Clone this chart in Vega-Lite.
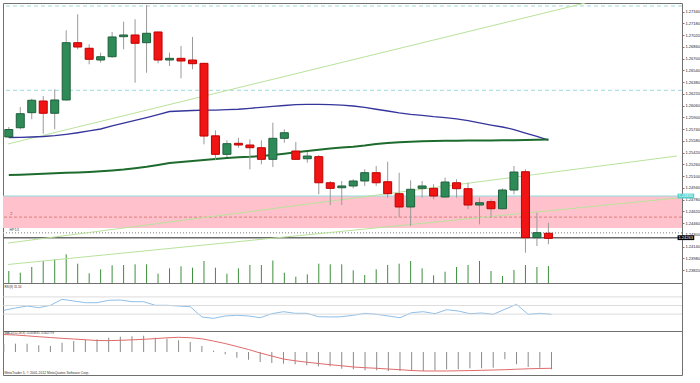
{
"$schema":"https://vega.github.io/schema/vega-lite/v6.json",
"padding":{"left":1,"top":2,"right":0,"bottom":0},
"background":"white",
"spacing":0,
"bounds":"flush",
"config":{"view":{"stroke":"#707070","strokeWidth":1},"font":"Liberation Sans"},
"datasets":{
"bars":[
{"i":0,"o":1.25634,"h":1.25770,"l":1.25620,"c":1.25736,"v":12000,"m1":1.25627,"m2":1.25116,"r":38.8,"hist":0.00154,"sig":0.00336},
{"i":1,"o":1.25760,"h":1.26042,"l":1.25739,"c":1.25951,"v":10300,"m1":1.25630,"m2":1.25120,"r":44.2,"hist":0.00160,"sig":0.00327},
{"i":2,"o":1.25965,"h":1.26155,"l":1.25875,"c":1.26134,"v":16000,"m1":1.25634,"m2":1.25126,"r":48.8,"hist":0.00160,"sig":0.00311},
{"i":3,"o":1.26124,"h":1.26192,"l":1.25679,"c":1.25957,"v":22000,"m1":1.25641,"m2":1.25133,"r":44.9,"hist":0.00129,"sig":0.00294},
{"i":4,"o":1.25957,"h":1.26283,"l":1.25739,"c":1.26138,"v":23700,"m1":1.25652,"m2":1.25140,"r":50.5,"hist":0.00115,"sig":0.00279},
{"i":5,"o":1.26138,"h":1.27087,"l":1.26131,"c":1.26918,"v":28700,"m1":1.25671,"m2":1.25146,"r":64.4,"hist":0.00179,"sig":0.00263},
{"i":6,"o":1.26918,"h":1.27305,"l":1.26828,"c":1.26859,"v":19300,"m1":1.25692,"m2":1.25150,"r":60.5,"hist":0.00211,"sig":0.00250},
{"i":7,"o":1.26842,"h":1.26896,"l":1.26624,"c":1.26692,"v":9700,"m1":1.25716,"m2":1.25157,"r":56.5,"hist":0.00236,"sig":0.00236},
{"i":8,"o":1.26682,"h":1.26782,"l":1.26646,"c":1.26727,"v":13700,"m1":1.25743,"m2":1.25167,"r":56.5,"hist":0.00244,"sig":0.00221},
{"i":9,"o":1.26727,"h":1.27064,"l":1.26714,"c":1.26996,"v":17700,"m1":1.25784,"m2":1.25178,"r":62.1,"hist":0.00275,"sig":0.00219},
{"i":10,"o":1.27000,"h":1.27204,"l":1.26828,"c":1.27023,"v":18000,"m1":1.25824,"m2":1.25191,"r":62.8,"hist":0.00294,"sig":0.00225},
{"i":11,"o":1.27023,"h":1.27237,"l":1.26373,"c":1.26910,"v":18700,"m1":1.25861,"m2":1.25209,"r":58.8,"hist":0.00302,"sig":0.00234},
{"i":12,"o":1.26918,"h":1.27431,"l":1.26509,"c":1.27046,"v":18700,"m1":1.25899,"m2":1.25229,"r":58.8,"hist":0.00313,"sig":0.00244},
{"i":13,"o":1.27064,"h":1.27070,"l":1.26637,"c":1.26682,"v":9300,"m1":1.25940,"m2":1.25253,"r":50.5,"hist":0.00275,"sig":0.00258},
{"i":14,"o":1.26682,"h":1.26782,"l":1.26601,"c":1.26705,"v":14700,"m1":1.25981,"m2":1.25280,"r":50.5,"hist":0.00256,"sig":0.00273},
{"i":15,"o":1.26705,"h":1.26873,"l":1.26433,"c":1.26669,"v":16700,"m1":1.25988,"m2":1.25293,"r":48.8,"hist":0.00225,"sig":0.00283},
{"i":16,"o":1.26682,"h":1.26996,"l":1.26556,"c":1.26632,"v":15300,"m1":1.25995,"m2":1.25307,"r":47.2,"hist":0.00192,"sig":0.00275},
{"i":17,"o":1.26637,"h":1.26646,"l":1.25534,"c":1.25647,"v":22000,"m1":1.25999,"m2":1.25321,"r":23.3,"hist":0.00115,"sig":0.00254},
{"i":18,"o":1.25650,"h":1.25725,"l":1.25317,"c":1.25398,"v":15300,"m1":1.26001,"m2":1.25334,"r":20.2,"hist":0.00025,"sig":0.00211},
{"i":19,"o":1.25398,"h":1.25589,"l":1.25361,"c":1.25543,"v":9300,"m1":1.26006,"m2":1.25348,"r":25.6,"hist":-0.00044,"sig":0.00163},
{"i":20,"o":1.25548,"h":1.25624,"l":1.25488,"c":1.25525,"v":14700,"m1":1.26012,"m2":1.25357,"r":27.2,"hist":-0.00110,"sig":0.00106},
{"i":21,"o":1.25525,"h":1.25602,"l":1.25194,"c":1.25488,"v":18000,"m1":1.26025,"m2":1.25364,"r":25.6,"hist":-0.00148,"sig":0.00048},
{"i":22,"o":1.25488,"h":1.25589,"l":1.25262,"c":1.25330,"v":18000,"m1":1.26038,"m2":1.25375,"r":21.6,"hist":-0.00192,"sig":-0.00019},
{"i":23,"o":1.25330,"h":1.25829,"l":1.25225,"c":1.25616,"v":22500,"m1":1.26052,"m2":1.25389,"r":30.9,"hist":-0.00211,"sig":-0.00077},
{"i":24,"o":1.25616,"h":1.25739,"l":1.25556,"c":1.25692,"v":10300,"m1":1.26063,"m2":1.25406,"r":35.6,"hist":-0.00225,"sig":-0.00135},
{"i":25,"o":1.25443,"h":1.25566,"l":1.25321,"c":1.25330,"v":6300,"m1":1.26074,"m2":1.25425,"r":31.9,"hist":-0.00236,"sig":-0.00169},
{"i":26,"o":1.25338,"h":1.25430,"l":1.25284,"c":1.25375,"v":8700,"m1":1.26079,"m2":1.25443,"r":31.9,"hist":-0.00256,"sig":-0.00196},
{"i":27,"o":1.25366,"h":1.25389,"l":1.24854,"c":1.25011,"v":19300,"m1":1.26079,"m2":1.25461,"r":24.0,"hist":-0.00275,"sig":-0.00221},
{"i":28,"o":1.25011,"h":1.25035,"l":1.24708,"c":1.24935,"v":18700,"m1":1.26075,"m2":1.25477,"r":23.3,"hist":-0.00275,"sig":-0.00244},
{"i":29,"o":1.24943,"h":1.25035,"l":1.24708,"c":1.24967,"v":18700,"m1":1.26067,"m2":1.25491,"r":24.0,"hist":-0.00321,"sig":-0.00265},
{"i":30,"o":1.24967,"h":1.25058,"l":1.24935,"c":1.25035,"v":12700,"m1":1.26056,"m2":1.25502,"r":27.2,"hist":-0.00333,"sig":-0.00288},
{"i":31,"o":1.25035,"h":1.25194,"l":1.24967,"c":1.25148,"v":8000,"m1":1.26036,"m2":1.25518,"r":31.9,"hist":-0.00352,"sig":-0.00302},
{"i":32,"o":1.25148,"h":1.25239,"l":1.24967,"c":1.25011,"v":13700,"m1":1.26012,"m2":1.25538,"r":29.5,"hist":-0.00352,"sig":-0.00313},
{"i":33,"o":1.25025,"h":1.25297,"l":1.24807,"c":1.24862,"v":18000,"m1":1.25988,"m2":1.25552,"r":25.6,"hist":-0.00365,"sig":-0.00327},
{"i":34,"o":1.24862,"h":1.25148,"l":1.24544,"c":1.24681,"v":19300,"m1":1.25963,"m2":1.25562,"r":21.6,"hist":-0.00365,"sig":-0.00340},
{"i":35,"o":1.24681,"h":1.25044,"l":1.24422,"c":1.24922,"v":22000,"m1":1.25943,"m2":1.25568,"r":33.3,"hist":-0.00365,"sig":-0.00356},
{"i":36,"o":1.24935,"h":1.25035,"l":1.24807,"c":1.24967,"v":14700,"m1":1.25927,"m2":1.25575,"r":35.6,"hist":-0.00365,"sig":-0.00365},
{"i":37,"o":1.24935,"h":1.24990,"l":1.24786,"c":1.24830,"v":7700,"m1":1.25910,"m2":1.25579,"r":30.9,"hist":-0.00352,"sig":-0.00365},
{"i":38,"o":1.24817,"h":1.25080,"l":1.24807,"c":1.25021,"v":11300,"m1":1.25897,"m2":1.25582,"r":40.2,"hist":-0.00333,"sig":-0.00365},
{"i":39,"o":1.25011,"h":1.25058,"l":1.24807,"c":1.24930,"v":16000,"m1":1.25882,"m2":1.25583,"r":37.2,"hist":-0.00333,"sig":-0.00361},
{"i":40,"o":1.24930,"h":1.25011,"l":1.24649,"c":1.24708,"v":18000,"m1":1.25858,"m2":1.25585,"r":30.9,"hist":-0.00313,"sig":-0.00357},
{"i":41,"o":1.24708,"h":1.24807,"l":1.24445,"c":1.24739,"v":22000,"m1":1.25827,"m2":1.25586,"r":32.6,"hist":-0.00313,"sig":-0.00352},
{"i":42,"o":1.24753,"h":1.24786,"l":1.24544,"c":1.24657,"v":12000,"m1":1.25797,"m2":1.25586,"r":29.5,"hist":-0.00302,"sig":-0.00346},
{"i":43,"o":1.24657,"h":1.24935,"l":1.24647,"c":1.24912,"v":7000,"m1":1.25770,"m2":1.25588,"r":41.2,"hist":-0.00140,"sig":-0.00340},
{"i":44,"o":1.24912,"h":1.25239,"l":1.24854,"c":1.25157,"v":13000,"m1":1.25736,"m2":1.25589,"r":52.8,"hist":-0.00236,"sig":-0.00331},
{"i":45,"o":1.25161,"h":1.25194,"l":1.24058,"c":1.24263,"v":18000,"m1":1.25688,"m2":1.25593,"r":29.5,"hist":-0.00288,"sig":-0.00323},
{"i":46,"o":1.24263,"h":1.24603,"l":1.24150,"c":1.24331,"v":16000,"m1":1.25641,"m2":1.25596,"r":31.9,"hist":-0.00302,"sig":-0.00317},
{"i":47,"o":1.24323,"h":1.24467,"l":1.24173,"c":1.24254,"v":17000,"m1":1.25590,"m2":1.25600,"r":29.5,"hist":-0.00333,"sig":-0.00313}
],
"zone":[{"lo":1.24395,"hi":1.24830}],
"hlines":[{"p":1.27418,"k":"cy"},{"p":1.26270,"k":"cy"},{"p":1.24830,"k":"cz"},{"p":1.24544,"k":"rd"},{"p":1.24331,"k":"dt"},{"p":1.24263,"k":"bid"}],
"trend":[{"n":"a","i":-0.0686,"p":1.25539},{"n":"a","i":50.23,"p":1.27459},{"n":"b","i":-0.0686,"p":1.24190},{"n":"b","i":58.2,"p":1.25375},{"n":"c","i":-0.0686,"p":1.23898},{"n":"c","i":58.2,"p":1.24803}],
"rlev":[{"r":70},{"r":50},{"r":30}]
},
"vconcat":[
{"width":679,"height":280,
 "layer":[
  {"data":{"name":"zone"},"mark":{"type":"rect","color":"#ffc2cc"},
   "encoding":{"y":{"field":"lo","type":"quantitative","scale":{"domain":[1.23646,1.274585],"nice":false,"zero":false},
      "axis":{"orient":"right","title":null,"format":".5f","grid":false,"domain":false,"tickSize":2,"labelPadding":1,"labelFontSize":4,"labelColor":"#222222","tickColor":"#777777","labelOverlap":false,"values":[1.2734,1.2718,1.2702,1.2686,1.267,1.2654,1.2638,1.2622,1.2606,1.259,1.2574,1.2558,1.2542,1.2526,1.251,1.2494,1.2478,1.2462,1.2446,1.243,1.2414,1.2398,1.2382]}},
    "y2":{"field":"hi"}}},
  {"data":{"name":"bars"},"mark":{"type":"rule","color":"#3d8f3d","strokeWidth":1,"clip":true},
   "encoding":{"x":{"field":"i","type":"quantitative","scale":{"domain":[-0.0686,58.2],"nice":false,"zero":false},"axis":null},
     "y":{"field":"v","type":"quantitative","scale":{"domain":[0,280000],"nice":false},"axis":null},"y2":{"datum":0}}},
  {"data":{"name":"hlines"},"mark":{"type":"rule"},
   "encoding":{"y":{"field":"p","type":"quantitative","scale":{"domain":[1.23646,1.274585],"nice":false,"zero":false},"axis":null},
    "color":{"field":"k","type":"nominal","scale":{"domain":["cy","cz","rd","dt","bid"],"range":["#9fd8dc","#8fdde0","#e48a8a","#a8a8a8","#6a6a6a"]},"legend":null},
    "strokeDash":{"field":"k","type":"nominal","scale":{"domain":["cy","cz","rd","dt","bid"],"range":[[4,3],[1,0],[3,2],[1,2],[1,0]]},"legend":null},
    "strokeWidth":{"field":"k","type":"ordinal","scale":{"domain":["cy","cz","rd","dt","bid"],"range":[1,1.5,1,1,2]},"legend":null}}},
  {"data":{"name":"trend"},"mark":{"type":"line","color":"#b9e29c","strokeWidth":1,"clip":true},
   "encoding":{"x":{"field":"i","type":"quantitative","scale":{"domain":[-0.0686,58.2],"nice":false,"zero":false},"axis":null},
    "y":{"field":"p","type":"quantitative","scale":{"domain":[1.23646,1.274585],"nice":false,"zero":false},"axis":null},"detail":{"field":"n"}}},
  {"data":{"name":"bars"},"mark":{"type":"line","color":"#35359c","strokeWidth":1.3,"clip":true},
   "encoding":{"x":{"field":"i","type":"quantitative","scale":{"domain":[-0.0686,58.2],"nice":false,"zero":false},"axis":null},
    "y":{"field":"m1","type":"quantitative","scale":{"domain":[1.23646,1.274585],"nice":false,"zero":false},"axis":null}}},
  {"data":{"name":"bars"},"mark":{"type":"line","color":"#1e6b2e","strokeWidth":2,"clip":true},
   "encoding":{"x":{"field":"i","type":"quantitative","scale":{"domain":[-0.0686,58.2],"nice":false,"zero":false},"axis":null},
    "y":{"field":"m2","type":"quantitative","scale":{"domain":[1.23646,1.274585],"nice":false,"zero":false},"axis":null}}},
  {"data":{"name":"bars"},"mark":{"type":"rule","color":"#9a9a9a","strokeWidth":1,"clip":true},
   "encoding":{"x":{"field":"i","type":"quantitative","scale":{"domain":[-0.0686,58.2],"nice":false,"zero":false},"axis":null},
    "y":{"field":"l","type":"quantitative","scale":{"domain":[1.23646,1.274585],"nice":false,"zero":false},"axis":null},"y2":{"field":"h"}}},
  {"data":{"name":"bars"},"mark":{"type":"bar","width":8,"strokeWidth":1,"clip":true},
   "encoding":{"x":{"field":"i","type":"quantitative","scale":{"domain":[-0.0686,58.2],"nice":false,"zero":false},"axis":null},
    "y":{"field":"o","type":"quantitative","scale":{"domain":[1.23646,1.274585],"nice":false,"zero":false},"axis":null},"y2":{"field":"c"},
    "fill":{"condition":{"test":"datum.c >= datum.o","value":"#2e8b57"},"value":"#f01414"},
    "stroke":{"condition":{"test":"datum.c >= datum.o","value":"#1f5f3b"},"value":"#c00000"}}},
  {"data":{"values":[{}]},"mark":{"type":"text","align":"left","baseline":"middle","fontSize":3.5,"color":"#555555"},
   "encoding":{"x":{"datum":0.12,"type":"quantitative","scale":{"domain":[-0.0686,58.2],"nice":false,"zero":false},"axis":null},
    "y":{"datum":1.24581,"type":"quantitative","scale":{"domain":[1.23646,1.274585],"nice":false,"zero":false},"axis":null},"text":{"value":"2"}}},
  {"data":{"values":[{}]},"mark":{"type":"text","align":"left","baseline":"middle","fontSize":3.5,"color":"#444444"},
   "encoding":{"x":{"datum":0.07,"type":"quantitative","scale":{"domain":[-0.0686,58.2],"nice":false,"zero":false},"axis":null},
    "y":{"datum":1.24361,"type":"quantitative","scale":{"domain":[1.23646,1.274585],"nice":false,"zero":false},"axis":null},"text":{"value":"HP1/1"}}},
  {"data":{"values":[{}]},"mark":{"type":"rect","color":"#4fd0cc"},
   "encoding":{"x":{"datum":58.25,"type":"quantitative","scale":{"domain":[-0.0686,58.2],"nice":false,"zero":false},"axis":null},"x2":{"datum":59.7},
    "y":{"datum":1.24797,"type":"quantitative","scale":{"domain":[1.23646,1.274585],"nice":false,"zero":false},"axis":null},"y2":{"datum":1.24863}}},
  {"data":{"values":[{}]},"mark":{"type":"text","align":"left","baseline":"middle","fontSize":4,"color":"#ffffff"},
   "encoding":{"x":{"datum":58.33,"type":"quantitative","scale":{"domain":[-0.0686,58.2],"nice":false,"zero":false},"axis":null},
    "y":{"datum":1.2483,"type":"quantitative","scale":{"domain":[1.23646,1.274585],"nice":false,"zero":false},"axis":null},"text":{"value":"1.24830"}}},
  {"data":{"values":[{}]},"mark":{"type":"rect","color":"#000000"},
   "encoding":{"x":{"datum":58.25,"type":"quantitative","scale":{"domain":[-0.0686,58.2],"nice":false,"zero":false},"axis":null},"x2":{"datum":59.7},
    "y":{"datum":1.2423,"type":"quantitative","scale":{"domain":[1.23646,1.274585],"nice":false,"zero":false},"axis":null},"y2":{"datum":1.24296}}},
  {"data":{"values":[{}]},"mark":{"type":"text","align":"left","baseline":"middle","fontSize":4,"color":"#ffffff"},
   "encoding":{"x":{"datum":58.33,"type":"quantitative","scale":{"domain":[-0.0686,58.2],"nice":false,"zero":false},"axis":null},
    "y":{"datum":1.24263,"type":"quantitative","scale":{"domain":[1.23646,1.274585],"nice":false,"zero":false},"axis":null},"text":{"value":"1.24263"}}}
 ],
 "resolve":{"scale":{"y":"independent"}}
},
{"width":679,"height":48,
 "layer":[
  {"data":{"name":"bars"},"mark":{"type":"line","color":"#8fbfe8","strokeWidth":1},
   "encoding":{"x":{"field":"i","type":"quantitative","scale":{"domain":[-0.0686,58.2],"nice":false,"zero":false},"axis":null},
    "y":{"field":"r","type":"quantitative","scale":{"domain":[-9.3,102.33],"nice":false,"zero":false},
     "axis":{"orient":"right","title":null,"format":".2f","grid":false,"domain":false,"tickSize":2,"labelPadding":1,"labelFontSize":4,"labelColor":"#222222","tickColor":"#777777","labelOverlap":false,"values":[0,30,50,70,100]}}}},
  {"data":{"name":"rlev"},"mark":{"type":"rule","color":"#d4d4d4","strokeWidth":0.8},
   "encoding":{"y":{"field":"r","type":"quantitative","scale":{"domain":[-9.3,102.33],"nice":false,"zero":false},"axis":null}}},
  {"data":{"values":[{}]},"mark":{"type":"text","align":"left","baseline":"middle","fontSize":3,"color":"#333333"},
   "encoding":{"x":{"datum":0.05,"type":"quantitative","scale":{"domain":[-0.0686,58.2],"nice":false,"zero":false},"axis":null},
    "y":{"datum":93.7,"type":"quantitative","scale":{"domain":[-9.3,102.33],"nice":false,"zero":false},"axis":null},"text":{"value":"RSI(8) 31.34"}}}
 ]
},
{"width":679,"height":44,
 "layer":[
  {"data":{"name":"bars"},"mark":{"type":"rule","color":"#8a8a8a","strokeWidth":1},
   "encoding":{"x":{"field":"i","type":"quantitative","scale":{"domain":[-0.0686,58.2],"nice":false,"zero":false},
      "axis":{"orient":"bottom","title":null,"grid":false,"domain":false,"tickSize":2,"labelPadding":0.5,"labelColor":"#222222","tickColor":"#777777","labelOverlap":false,"labelFlush":false,"labelFontSize":3.6,"labelAlign":"left","values":[0,2,4,6,8,10,12,14,16,18,20,22,24,26,28,30,32,34,36,38,40,42,44,46],
       "labelExpr":"['18 Jun 2012','19 Jun 04:00','19 Jun 12:00','19 Jun 20:00','20 Jun 04:00','20 Jun 12:00','20 Jun 20:00','21 Jun 04:00','21 Jun 12:00','21 Jun 20:00','22 Jun 04:00','22 Jun 12:00','22 Jun 20:00','25 Jun 04:00','25 Jun 12:00','25 Jun 20:00','26 Jun 04:00','26 Jun 12:00','26 Jun 20:00','27 Jun 04:00','27 Jun 12:00','27 Jun 20:00','28 Jun 04:00','28 Jun 12:00'][round(datum.value/2)]"}},
    "y":{"field":"hist","type":"quantitative","scale":{"domain":[-0.00442,0.00404],"nice":false,"zero":false},
      "axis":{"orient":"right","title":null,"format":".6f","grid":false,"domain":false,"tickSize":2,"labelPadding":1,"labelFontSize":3.6,"labelColor":"#222222","tickColor":"#777777","labelOverlap":false,"values":[-0.004229,0,0.004033]}},
    "y2":{"datum":0}}},
  {"data":{"name":"bars"},"mark":{"type":"line","color":"#e06a6a","strokeWidth":1},
   "encoding":{"x":{"field":"i","type":"quantitative","scale":{"domain":[-0.0686,58.2],"nice":false,"zero":false},"axis":null},
    "y":{"field":"sig","type":"quantitative","scale":{"domain":[-0.00442,0.00404],"nice":false,"zero":false},"axis":null}}},
  {"data":{"values":[{}]},"mark":{"type":"text","align":"left","baseline":"middle","fontSize":3,"color":"#333333"},
   "encoding":{"x":{"datum":0.05,"type":"quantitative","scale":{"domain":[-0.0686,58.2],"nice":false,"zero":false},"axis":null},
    "y":{"datum":0.00371,"type":"quantitative","scale":{"domain":[-0.00442,0.00404],"nice":false,"zero":false},"axis":null},"text":{"value":"MACD(12,26,9) -0.003835 -0.002779"}}},
  {"data":{"values":[{}]},"mark":{"type":"text","align":"left","baseline":"middle","fontSize":3.4,"color":"#333333"},
   "encoding":{"x":{"datum":0.05,"type":"quantitative","scale":{"domain":[-0.0686,58.2],"nice":false,"zero":false},"axis":null},
    "y":{"datum":-0.00409,"type":"quantitative","scale":{"domain":[-0.00442,0.00404],"nice":false,"zero":false},"axis":null},"text":{"value":"MetaTrader 5, © 2001-2012 MetaQuotes Software Corp."}}}
 ]
}
]
}
